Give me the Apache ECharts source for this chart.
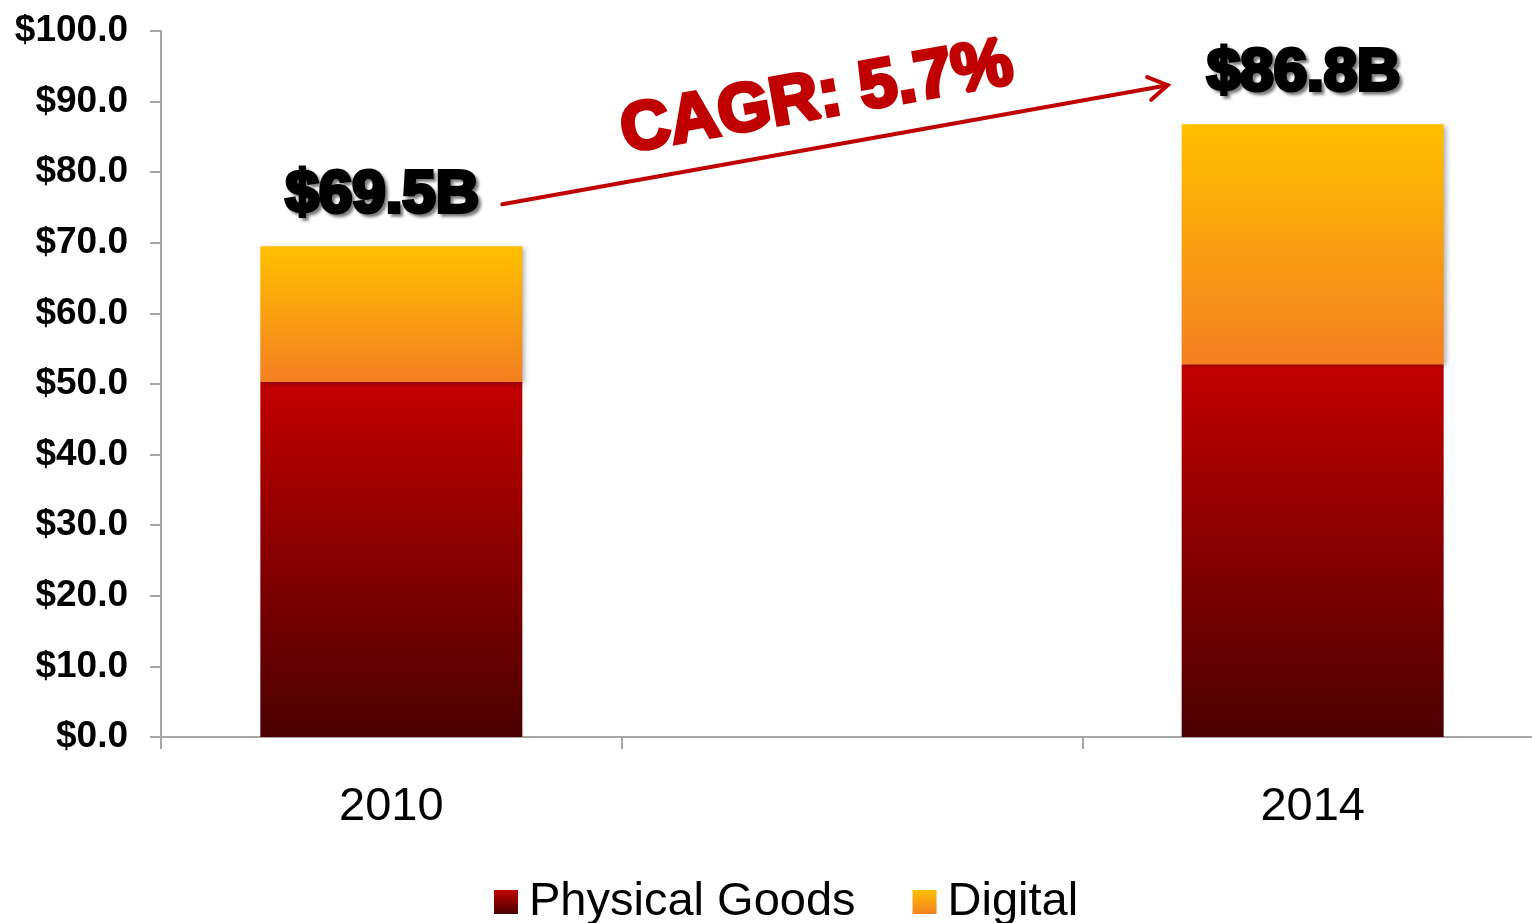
<!DOCTYPE html>
<html>
<head>
<meta charset="utf-8">
<style>
  html, body { margin: 0; padding: 0; background: #ffffff; }
  #chart { width: 1532px; height: 923px; }
</style>
<script src="https://cdn.jsdelivr.net/npm/echarts@6/dist/echarts.min.js"></script>
</head>
<body>
<div id="chart"></div>
<script>
// Categories (the middle slot is an empty spacer between the two years)
const categories = ['2010', '', '2014'];
// Market size by segment, in $B
const physicalGoods = [50.3, null, 52.8];
const digital = [19.2, null, 34.0];
// Y-axis tick values
const yTicks = [0, 10, 20, 30, 40, 50, 60, 70, 80, 90, 100];
const growthLabel = 'CAGR: 5.7%';

const totals = physicalGoods.map((v, i) => (v == null ? null : v + digital[i]));

const FONT = '"Liberation Sans", Arial, sans-serif';

const physicalFill = {
  type: 'linear', x: 0, y: 0, x2: 0, y2: 1,
  colorStops: [{ offset: 0, color: '#c20000' }, { offset: 1, color: '#4a0000' }]
};
const digitalFill = {
  type: 'linear', x: 0, y: 0, x2: 0, y2: 1,
  colorStops: [{ offset: 0, color: '#ffc000' }, { offset: 1, color: '#f37f22' }]
};
const barShadow = {
  shadowBlur: 5, shadowColor: 'rgba(0,0,0,0.3)', shadowOffsetX: 3, shadowOffsetY: 2
};

const chart = echarts.init(document.getElementById('chart'));

chart.setOption({
  animation: false,
  backgroundColor: '#ffffff',
  // the plot runs slightly past the right edge of the canvas
  grid: { left: 161, top: 31, width: 1382, height: 706, containLabel: false, outerBoundsMode: 'none' },
  legend: {
    left: 489,
    top: 872,
    itemWidth: 24,
    itemHeight: 24,
    itemGap: 57,
    icon: 'rect',
    textStyle: { fontFamily: FONT, fontSize: 47, color: '#000', lineHeight: 50, padding: [0, 0, 0, 6] },
    data: ['Physical Goods', 'Digital']
  },
  xAxis: {
    type: 'category',
    data: categories,
    axisLine: { lineStyle: { color: '#a6a6a6', width: 2 } },
    axisTick: { show: true, length: 12, lineStyle: { color: '#a6a6a6', width: 2 } },
    axisLabel: { fontFamily: FONT, fontSize: 47, color: '#000', margin: 47 }
  },
  yAxis: {
    type: 'value',
    min: yTicks[0],
    max: yTicks[yTicks.length - 1],
    interval: yTicks[1] - yTicks[0],
    splitLine: { show: false },
    axisLine: { show: true, lineStyle: { color: '#a6a6a6', width: 2 } },
    axisTick: { show: true, length: 11, lineStyle: { color: '#a6a6a6', width: 2 } },
    axisLabel: {
      fontFamily: FONT, fontSize: 37, fontWeight: 'bold', color: '#000', margin: 33,
      formatter: v => '$' + v.toFixed(1)
    }
  },
  series: [
    {
      name: 'Physical Goods',
      type: 'bar',
      stack: 'total',
      barWidth: 262,
      data: physicalGoods,
      itemStyle: Object.assign({ color: physicalFill }, barShadow)
    },
    {
      name: 'Digital',
      type: 'bar',
      stack: 'total',
      barWidth: 262,
      data: digital,
      itemStyle: Object.assign({ color: digitalFill }, barShadow),
      label: {
        show: true,
        position: 'top',
        distance: 21,
        offset: [-9, 0],
        formatter: p => (totals[p.dataIndex] == null ? '' : '$' + totals[p.dataIndex].toFixed(1) + 'B'),
        fontFamily: FONT,
        fontSize: 60,
        fontWeight: 'bold',
        color: '#000',
        textBorderColor: '#000',
        textBorderWidth: 4,
        textShadowColor: 'rgba(0,0,0,0.4)',
        textShadowBlur: 3,
        textShadowOffsetX: 3,
        textShadowOffsetY: 3
      }
    }
  ]
});

// Growth arrow from the 2010 total to the 2014 total, with its rotated caption
const first = totals.findIndex(v => v != null);
const last = totals.length - 1 - [...totals].reverse().findIndex(v => v != null);
const a = chart.convertToPixel({ seriesIndex: 1 }, [first, totals[first]]);
const b = chart.convertToPixel({ seriesIndex: 1 }, [last, totals[last]]);
const start = [a[0] + 111, a[1] - 42];
const end = [b[0] - 145, b[1] - 39];
const ang = Math.atan2(end[1] - start[1], end[0] - start[0]);
const head = 22, spread = 0.55;
const wing1 = [end[0] - head * Math.cos(ang - spread), end[1] - head * Math.sin(ang - spread)];
const wing2 = [end[0] - head * Math.cos(ang + spread), end[1] - head * Math.sin(ang + spread)];
const mid = [(start[0] + end[0]) / 2, (start[1] + end[1]) / 2];

chart.setOption({
  graphic: [
    {
      type: 'line',
      shape: { x1: start[0], y1: start[1], x2: end[0], y2: end[1] },
      style: { stroke: '#c00000', lineWidth: 4, lineCap: 'round' }
    },
    {
      type: 'polyline',
      shape: { points: [wing1, end, wing2] },
      style: { stroke: '#c00000', lineWidth: 4, lineCap: 'round', lineJoin: 'miter', fill: null }
    },
    {
      type: 'text',
      x: mid[0] - 18,
      y: mid[1] - 46,
      rotation: -ang,
      style: {
        text: growthLabel,
        x: 0, y: 0,
        align: 'center',
        verticalAlign: 'middle',
        font: 'bold 68px ' + FONT,
        fill: '#c00000',
        stroke: '#c00000',
        lineWidth: 4,
        shadowColor: 'rgba(0,0,0,0.35)',
        shadowBlur: 3,
        shadowOffsetX: 3,
        shadowOffsetY: 3
      }
    }
  ]
});
</script>
</body>
</html>
